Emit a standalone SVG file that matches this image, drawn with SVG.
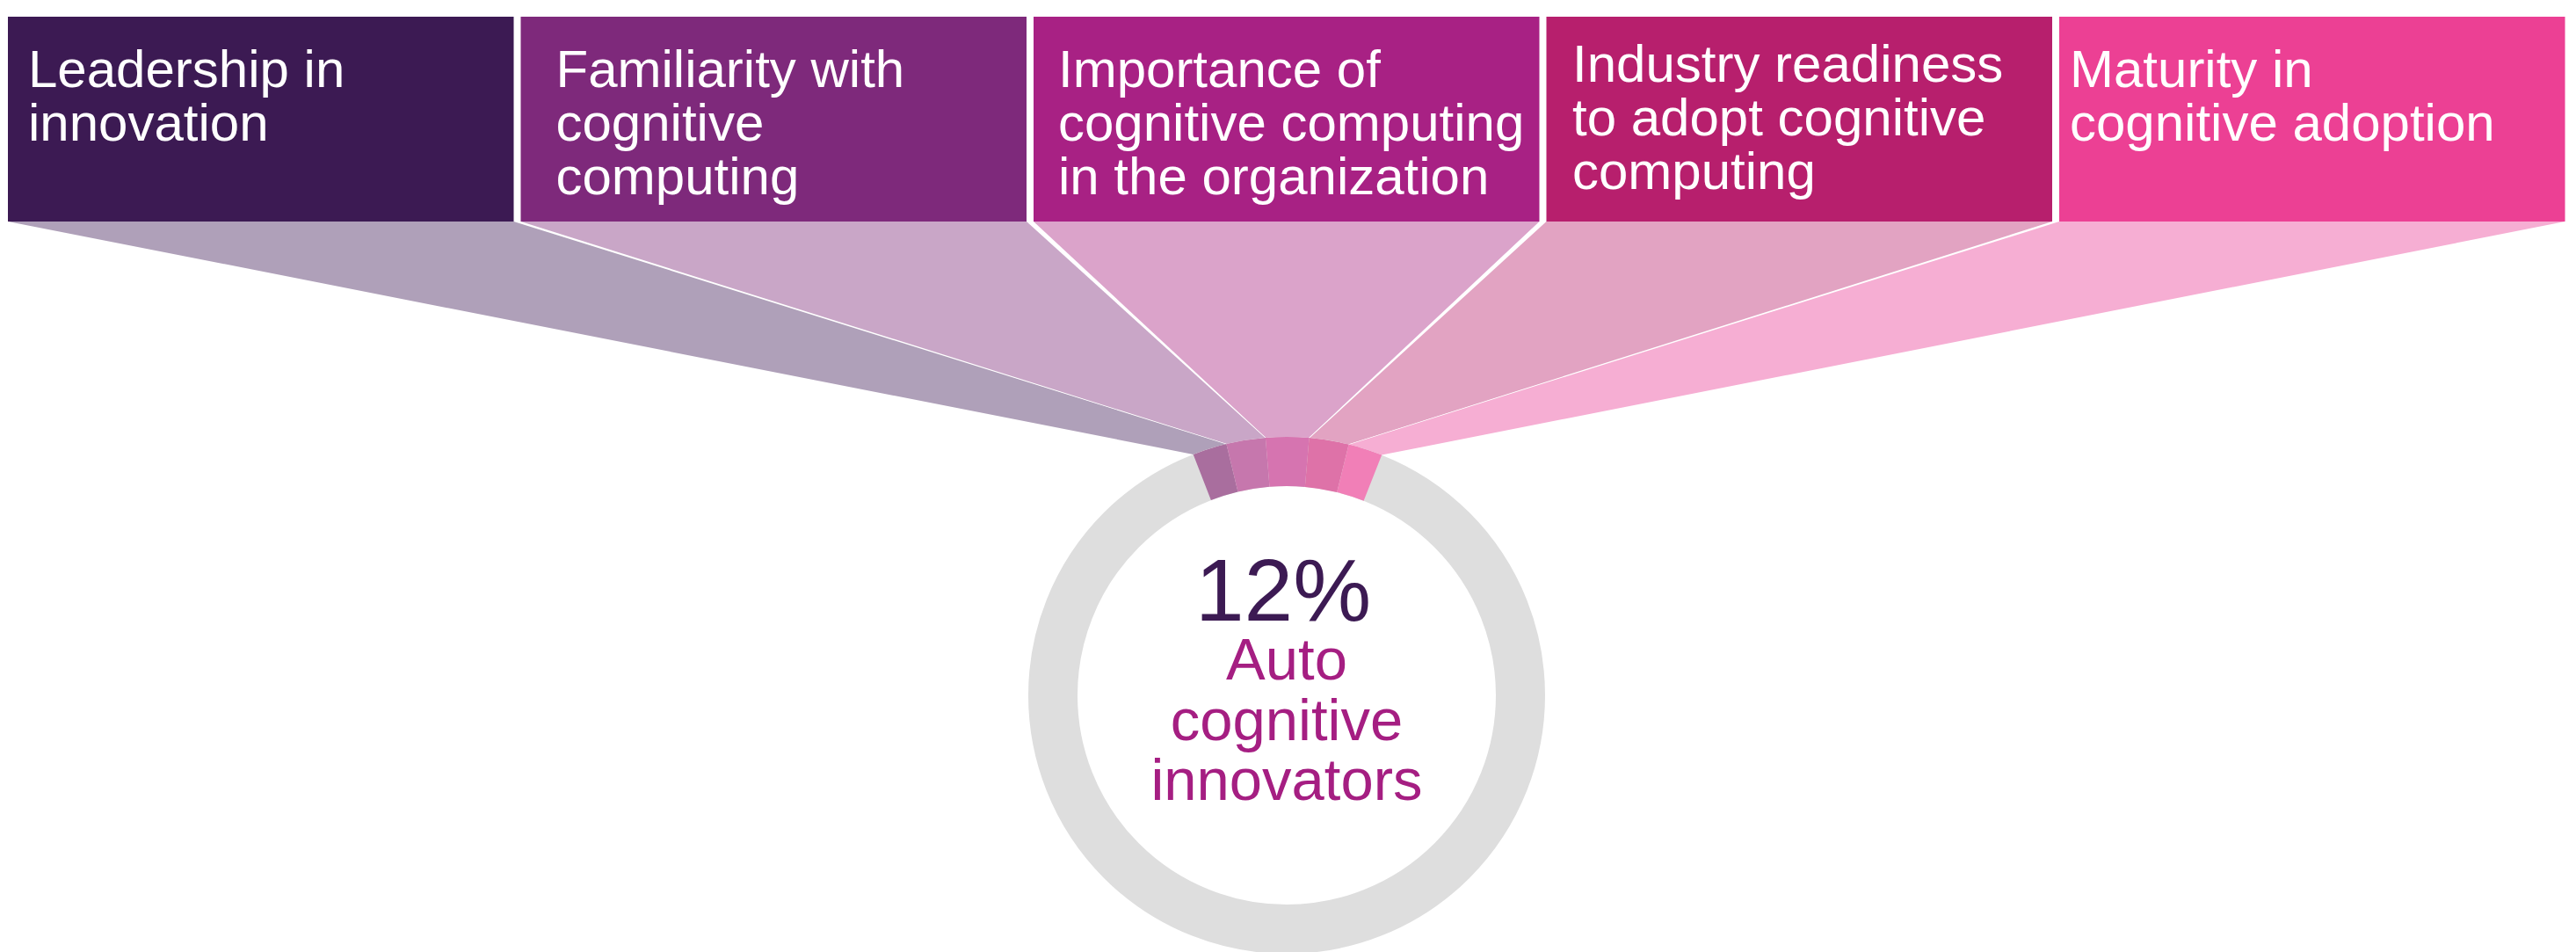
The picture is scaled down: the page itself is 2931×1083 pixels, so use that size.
<svg xmlns="http://www.w3.org/2000/svg" width="2931" height="1083" viewBox="0 0 2931 1083">
  <style>
    .box-label { font-family: "Liberation Sans", Arial, Helvetica, sans-serif; font-size: 60px; fill: #ffffff; }
    .center-big { font-family: "Liberation Sans", Arial, Helvetica, sans-serif; font-size: 100px; fill: #3c1a53; text-anchor: middle; }
    .center-sub { font-family: "Liberation Sans", Arial, Helvetica, sans-serif; font-size: 67px; fill: #a51e82; text-anchor: middle; }
    .gap { fill: #ffffff; }
  </style>
  <rect x="0" y="0" width="2931" height="1083" fill="#ffffff"/>

  <!-- fans from each category box down to the ring -->
  <g id="fans">
    <path d="M 9 252 L 588.5 252 L 1395.4 505.1 A 294 294 0 0 0 1357.7 516.9 Z" fill="#afa0b9"/>
    <path d="M 588.5 252 L 1172 252 L 1439.9 498.0 A 294 294 0 0 0 1395.4 505.1 Z" fill="#c9a6c7"/>
    <path d="M 1172 252 L 1755.5 252 L 1489.6 498.1 A 294 294 0 0 0 1439.9 498.0 Z" fill="#dba3ca"/>
    <path d="M 1755.5 252 L 2339 252 L 1534.6 505.6 A 294 294 0 0 0 1489.6 498.1 Z" fill="#e2a3c2"/>
    <path d="M 2339 252 L 2918.5 252 L 1572.2 517.6 A 294 294 0 0 0 1534.6 505.6 Z" fill="#f6aed3"/>
  </g>

  <!-- white separators between fans -->
  <g id="connectors">
    <polygon class="gap" points="584.5,252 592.5,252 1395.9,505 1394.9,505.2"/>
    <polygon class="gap" points="1168,252 1176,252 1440.4,497.9 1439.4,498.0"/>
    <polygon class="gap" points="1751.5,252 1759.5,252 1490.1,498.2 1489.1,498.1"/>
    <polygon class="gap" points="2335,252 2343,252 1535.1,505.7 1534.1,505.5"/>
  </g>

  <!-- ring -->
  <g id="ring">
    <circle cx="1464" cy="791" r="266" fill="none" stroke="#dedede" stroke-width="56"/>
    <path d="M 1357.7 516.9 A 294 294 0 0 1 1395.4 505.1 L 1408.5 559.6 A 238 238 0 0 0 1377.9 569.1 Z" fill="#a96e9e"/>
    <path d="M 1395.4 505.1 A 294 294 0 0 1 1439.9 498.0 L 1444.5 553.8 A 238 238 0 0 0 1408.5 559.6 Z" fill="#c677ad"/>
    <path d="M 1439.9 498.0 A 294 294 0 0 1 1489.6 498.1 L 1484.8 553.9 A 238 238 0 0 0 1444.5 553.8 Z" fill="#d674b0"/>
    <path d="M 1489.6 498.1 A 294 294 0 0 1 1534.6 505.6 L 1521.2 560.0 A 238 238 0 0 0 1484.8 553.9 Z" fill="#de72a8"/>
    <path d="M 1534.6 505.6 A 294 294 0 0 1 1572.2 517.6 L 1551.6 569.7 A 238 238 0 0 0 1521.2 560.0 Z" fill="#f17fb7"/>
  </g>

  <!-- category boxes -->
  <g id="box-leadership">
    <rect x="9" y="19" width="575.5" height="233" fill="#3c1a53"/>
    <text class="box-label" x="32" y="99">Leadership in</text>
    <text class="box-label" x="32" y="160">innovation</text>
  </g>
  <g id="box-familiarity">
    <rect x="592.5" y="19" width="575.5" height="233" fill="#7e297b"/>
    <text class="box-label" x="632.5" y="99">Familiarity with</text>
    <text class="box-label" x="632.5" y="160">cognitive</text>
    <text class="box-label" x="632.5" y="221">computing</text>
  </g>
  <g id="box-importance">
    <rect x="1176" y="19" width="575.5" height="233" fill="#a82184"/>
    <text class="box-label" x="1204" y="99">Importance of</text>
    <text class="box-label" x="1204" y="160">cognitive computing</text>
    <text class="box-label" x="1204" y="221">in the organization</text>
  </g>
  <g id="box-readiness">
    <rect x="1759.5" y="19" width="575.5" height="233" fill="#b71f6d"/>
    <text class="box-label" x="1789" y="93">Industry readiness</text>
    <text class="box-label" x="1789" y="154">to adopt cognitive</text>
    <text class="box-label" x="1789" y="215">computing</text>
  </g>
  <g id="box-maturity">
    <rect x="2343" y="19" width="575.5" height="233" fill="#ec4094"/>
    <text class="box-label" x="2355" y="99">Maturity in</text>
    <text class="box-label" x="2355" y="160">cognitive adoption</text>
  </g>

  <!-- centre figure -->
  <g id="center-stat">
    <text class="center-big" x="1460" y="706">12%</text>
    <text class="center-sub" x="1464" y="773">Auto</text>
    <text class="center-sub" x="1464" y="842">cognitive</text>
    <text class="center-sub" x="1464" y="910">innovators</text>
  </g>
</svg>
